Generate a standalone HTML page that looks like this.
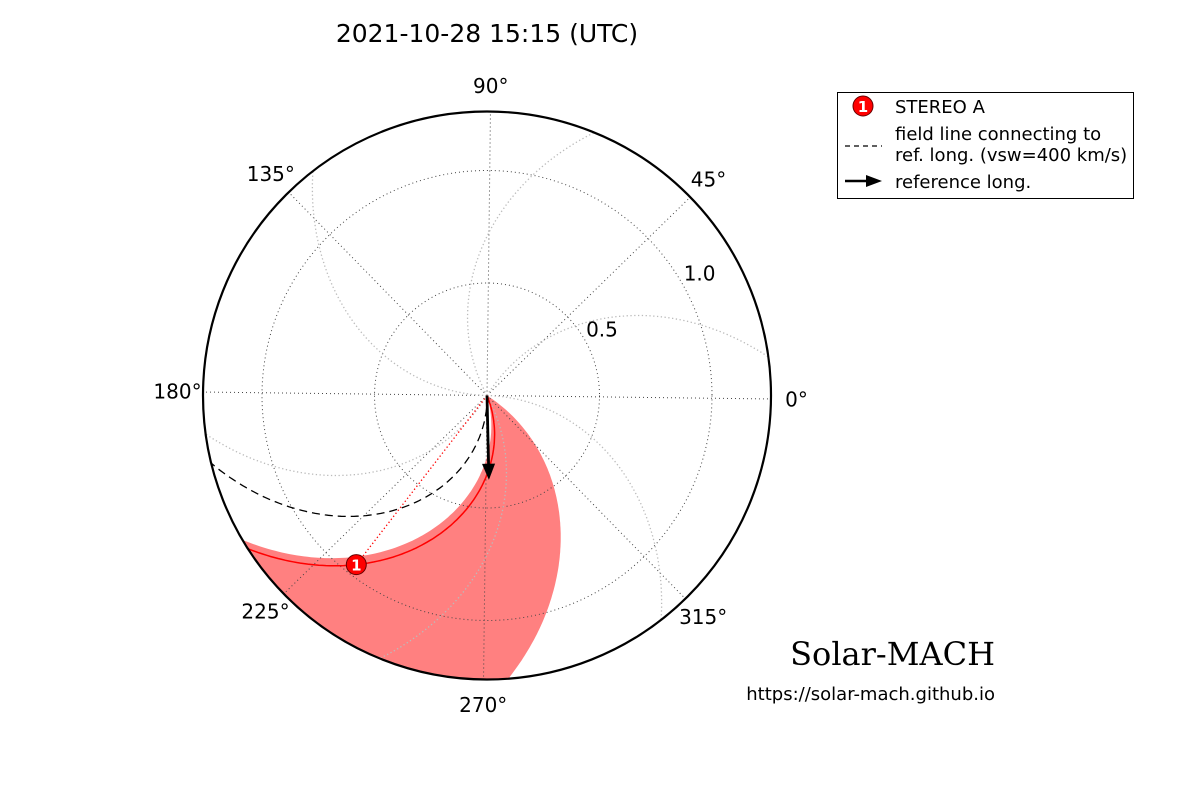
<!DOCTYPE html>
<html><head><meta charset="utf-8"><style>
body{margin:0;background:#fff}
svg text{font-family:"DejaVu Sans","Liberation Sans",sans-serif}
</style></head><body>
<svg id="chart" width="1200" height="800" viewBox="0 0 1200 800" xmlns="http://www.w3.org/2000/svg">
<defs><clipPath id="clipc"><circle cx="487" cy="395.5" r="284"/></clipPath></defs>
<text x="487" y="42" font-size="25" text-anchor="middle">2021-10-28 15:15 (UTC)</text>
<g id="fillg" clip-path="url(#clipc)"></g>
<g id="grid"></g>
<g id="lines" clip-path="url(#clipc)"></g>
<circle cx="487" cy="395.5" r="284" fill="none" stroke="#000" stroke-width="2.2"/>
<g id="labels"></g>
<g id="marks"></g>
<g>
<rect x="837.5" y="92.5" width="296" height="106" fill="#fff" stroke="#000" stroke-width="1"/>
<circle cx="863" cy="106" r="10" fill="#f00" stroke="#600" stroke-width="1"/>
<text x="863" y="112" font-size="15" font-weight="bold" fill="#fff" text-anchor="middle">1</text>
<text x="895" y="113" font-size="18">STEREO A</text>
<line x1="845" y1="146" x2="882" y2="146" stroke="#000" stroke-width="1.3" stroke-dasharray="5,4"/>
<text x="895" y="140" font-size="18">field line connecting to</text>
<text x="895" y="161" font-size="18">ref. long. (vsw=400 km/s)</text>
<line x1="845" y1="181" x2="868" y2="181" stroke="#000" stroke-width="2.5"/>
<polygon points="866,175 882,181 866,187" fill="#000"/>
<text x="895" y="188" font-size="18">reference long.</text>
</g>
<text x="995" y="665" font-size="32" text-anchor="end" style="font-family:'DejaVu Serif','Liberation Serif',serif">Solar-MACH</text>
<text x="995" y="700" font-size="18" text-anchor="end">https://solar-mach.github.io</text>
</svg>
<script>
const rTicks=[0.5,1.0];
const rTickLabels=["0.5","1.0"];
const thetaTicks=[0,45,90,135,180,225,270,315];
const thetaTickLabels=["0°","45°","90°","135°","180°","225°","270°","315°"];
const scName=["STEREO A"];
const scLon=[233];
const scR=[0.95];
const scFoot=[292.8];
const refLon=[272];
const bgFoot=[59,119,179,239,299,359];
const bandFootA=[287];const bandKA=[60];
const bandFootB=[328];const bandKB=[42];
const K400=61.4, KBG=40, RMAX=1.262;
const CX=487,CY=395.5,S=225,ROT=-0.7;
const NS="http://www.w3.org/2000/svg";
function px(r,t){const a=(t+ROT)*Math.PI/180;return [CX+r*S*Math.cos(a),CY-r*S*Math.sin(a)];}
function mk(tag,attrs,parent){const e=document.createElementNS(NS,tag);for(const k in attrs)e.setAttribute(k,attrs[k]);document.getElementById(parent).appendChild(e);return e;}
function spiral(f0,k,r0,r1){let p=[];for(let i=0;i<=120;i++){const r=r0+(r1-r0)*i/120;p.push(px(r,f0-k*r));}return p;}
function pts(p){return p.map(q=>q[0].toFixed(1)+","+q[1].toFixed(1)).join(" ");}
rTicks.forEach((r,i)=>{const e=mk('circle',{cx:CX,cy:CY,r:r*S,fill:'none',stroke:'#444','stroke-width':1,'stroke-dasharray':'1,3'},'grid');


const lp=px(r+20/S,30.5);const t=mk('text',{x:lp[0],y:lp[1]+7,'font-size':20,'text-anchor':'middle'},'labels');t.textContent=rTickLabels[i];

});
thetaTicks.forEach((th,i)=>{const p=px(RMAX,th);const e=mk('line',{x1:CX,y1:CY,x2:p[0],y2:p[1],stroke:'#444','stroke-width':1,'stroke-dasharray':'1,3'},'grid');


const lp=px(RMAX*1.09,th);const t=mk('text',{x:lp[0],y:lp[1]+7,'font-size':20,'text-anchor':'middle'},'labels');t.textContent=thetaTickLabels[i];

});
bgFoot.forEach(f=>{const e=mk('polyline',{points:pts(spiral(f,KBG,0,RMAX)),fill:'none',stroke:'#bbb','stroke-width':1.3,'stroke-dasharray':'1.3,2.5'},'lines');

});
(function(){const A=spiral(bandFootA[0],bandKA[0],0,RMAX);const B=spiral(bandFootB[0],bandKB[0],0,RMAX).reverse();
const a1=bandFootA[0]-bandKA[0]*RMAX,a2=bandFootB[0]-bandKB[0]*RMAX;let arc=[];for(let i=0;i<=40;i++)arc.push(px(RMAX+0.05,a1+(a2-a1)*i/40));
const e=mk('polygon',{points:pts(A.concat(arc,B)),fill:'#ff8080',stroke:'none'},'fillg');

})();
refLon.forEach(l=>{const e=mk('polyline',{points:pts(spiral(l,K400,0,RMAX)),fill:'none',stroke:'#000','stroke-width':1.3,'stroke-dasharray':'8,5'},'lines');

});
scLon.forEach((l,i)=>{const k=(scFoot[i]-l)/scR[i];
const e=mk('polyline',{points:pts(spiral(scFoot[i],k,0,RMAX)),fill:'none',stroke:'#f00','stroke-width':1.5},'lines');


const p=px(scR[i],l);
const d=mk('line',{x1:CX,y1:CY,x2:p[0],y2:p[1],stroke:'#f00','stroke-width':1.3,'stroke-dasharray':'1.3,2.5'},'lines');


const c=mk('circle',{cx:p[0],cy:p[1],r:10,fill:'#f00',stroke:'#600','stroke-width':1},'marks');


const t=mk('text',{x:p[0],y:p[1]+6,'font-size':15,'font-weight':'bold',fill:'#fff','text-anchor':'middle'},'marks');t.textContent='1';

});
refLon.forEach(l=>{const p=px(0.31,l),h=px(0.375,l),b1=px(0.305,l-5.5),b2=px(0.305,l+5.5);
const e=mk('line',{x1:CX,y1:CY,x2:p[0],y2:p[1],stroke:'#000','stroke-width':2.8},'marks');


const hd=mk('polygon',{points:pts([h,b1,b2]),fill:'#000'},'marks');

});
</script>
</body></html>
